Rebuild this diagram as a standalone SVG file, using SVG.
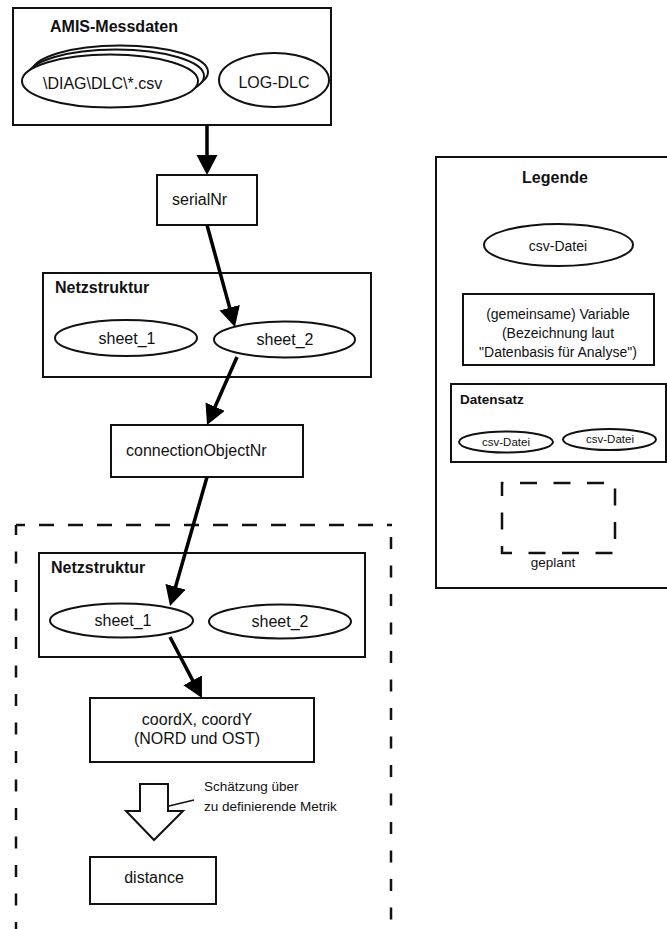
<svg xmlns="http://www.w3.org/2000/svg" width="667" height="929" viewBox="0 0 667 929">
<style>
text{font-family:"Liberation Sans",Arial,Helvetica,sans-serif;font-size:16px;fill:#111}
.b{font-weight:bold}
.m{text-anchor:middle}
.s{font-size:13.5px}
.xs{font-size:11.5px}
.box{fill:#fff;stroke:#111;stroke-width:2}
.ell{fill:#fff;stroke:#111;stroke-width:2}
.con{stroke:#000;stroke-width:3.5;fill:none}
.dash{stroke:#111;stroke-width:2.5;fill:none}
</style>
<defs>
<marker id="ah" markerUnits="userSpaceOnUse" markerWidth="22" markerHeight="22" refX="2" refY="10.5" orient="auto">
<path d="M0,0 L20,10.5 L0,21 z" fill="#000"/>
</marker>
</defs>
<rect width="667" height="929" fill="#fff"/>

<g id="planned">
<line class="dash" x1="16" y1="525" x2="392" y2="525" stroke-dasharray="15 14" stroke-dashoffset="6"/>
<line class="dash" x1="16" y1="525" x2="16" y2="940" stroke-dasharray="12 16.5" stroke-dashoffset="2"/>
<line class="dash" x1="391" y1="537" x2="391" y2="940" stroke-dasharray="12 16.5"/>
</g>

<g id="amis">
<rect class="box" x="13" y="8" width="318" height="117"/>
<text class="b" x="50" y="32">AMIS-Messdaten</text>
</g>
<g id="diag">
<ellipse class="ell" cx="120" cy="72" rx="88" ry="26.5"/>
<ellipse class="ell" cx="116" cy="76" rx="88" ry="26.5"/>
<ellipse class="ell" cx="110" cy="81" rx="88" ry="26.5"/>
<text x="43" y="89">\DIAG\DLC\*.csv</text>
</g>
<g id="logdlc">
<ellipse class="ell" cx="274" cy="80" rx="55" ry="27"/>
<text class="m" x="274" y="88">LOG-DLC</text>
</g>

<g id="serialNr">
<rect class="box" x="157" y="175" width="100" height="50"/>
<text x="172" y="205">serialNr</text>
</g>

<g id="netz1">
<rect class="box" x="43" y="273" width="328" height="104"/>
<text class="b" x="55" y="293">Netzstruktur</text>
</g>
<g id="n1sheet1">
<ellipse class="ell" cx="126" cy="338" rx="71" ry="18"/>
<text class="m" x="127" y="344">sheet_1</text>
</g>
<g id="n1sheet2">
<ellipse class="ell" cx="284.5" cy="339.5" rx="70.5" ry="18"/>
<text class="m" x="285" y="345">sheet_2</text>
</g>

<g id="connectionObjectNr">
<rect class="box" x="111" y="425" width="192" height="52"/>
<text x="126" y="456">connectionObjectNr</text>
</g>

<g id="netz2">
<rect class="box" x="39" y="553" width="326" height="104"/>
<text class="b" x="51" y="573">Netzstruktur</text>
</g>
<g id="n2sheet1">
<ellipse class="ell" cx="121.5" cy="620.5" rx="71.5" ry="17"/>
<text class="m" x="123" y="626">sheet_1</text>
</g>
<g id="n2sheet2">
<ellipse class="ell" cx="280" cy="621.5" rx="71" ry="17"/>
<text class="m" x="280" y="627">sheet_2</text>
</g>

<g id="coord">
<rect class="box" x="90" y="698" width="224" height="64"/>
<text class="m" x="197" y="725">coordX, coordY</text>
<text class="m" x="197" y="744">(NORD und OST)</text>
</g>

<g id="estimate">
<polygon points="140,784 168,784 168,811 183,811 154,840 126,811 140,811" fill="#fff" stroke="#111" stroke-width="2"/>
<line x1="169" y1="806" x2="194" y2="800" stroke="#111" stroke-width="1.5"/>
<text class="s" x="204" y="791">Schätzung über</text>
<text class="s" x="204" y="811">zu definierende Metrik</text>
</g>

<g id="distance">
<rect class="box" x="90" y="857" width="126" height="47"/>
<text class="m" x="154" y="883">distance</text>
</g>

<g id="connectors">
<line class="con" x1="207" y1="125" x2="207" y2="157" marker-end="url(#ah)"/>
<line class="con" x1="207" y1="225" x2="230.2" y2="309.6" marker-end="url(#ah)"/>
<line class="con" x1="237" y1="357" x2="214.3" y2="408.5" marker-end="url(#ah)"/>
<line class="con" x1="207" y1="477" x2="175" y2="588.7" marker-end="url(#ah)"/>
<line class="con" x1="170" y1="637" x2="193.6" y2="682.1" marker-end="url(#ah)"/>
</g>

<g id="legend">
<rect class="box" x="436" y="157" width="234" height="431"/>
<text class="b m" x="555" y="183">Legende</text>
<ellipse class="ell" cx="558.5" cy="245" rx="74.5" ry="21"/>
<text class="m" x="558" y="251" style="font-size:14px">csv-Datei</text>
<rect class="box" x="463" y="294" width="191" height="71"/>
<text class="m" x="558" y="319" style="font-size:14px">(gemeinsame) Variable</text>
<text class="m" x="558" y="338" style="font-size:14px">(Bezeichnung laut</text>
<text class="m" x="558" y="357" style="font-size:14px">"Datenbasis für Analyse")</text>
<rect class="box" x="451" y="384" width="215" height="78"/>
<text class="b s" x="460" y="404">Datensatz</text>
<ellipse class="ell" cx="506" cy="442" rx="47" ry="10.5"/>
<text class="m xs" x="506" y="446">csv-Datei</text>
<ellipse class="ell" cx="609.5" cy="439.5" rx="46.5" ry="10.5"/>
<text class="m xs" x="610" y="443">csv-Datei</text>
<rect x="502" y="483" width="113" height="70" fill="none" stroke="#111" stroke-width="2.5" stroke-dasharray="17 16.5" stroke-dashoffset="15.5"/>
<text class="m s" x="553" y="567">geplant</text>
</g>
</svg>
